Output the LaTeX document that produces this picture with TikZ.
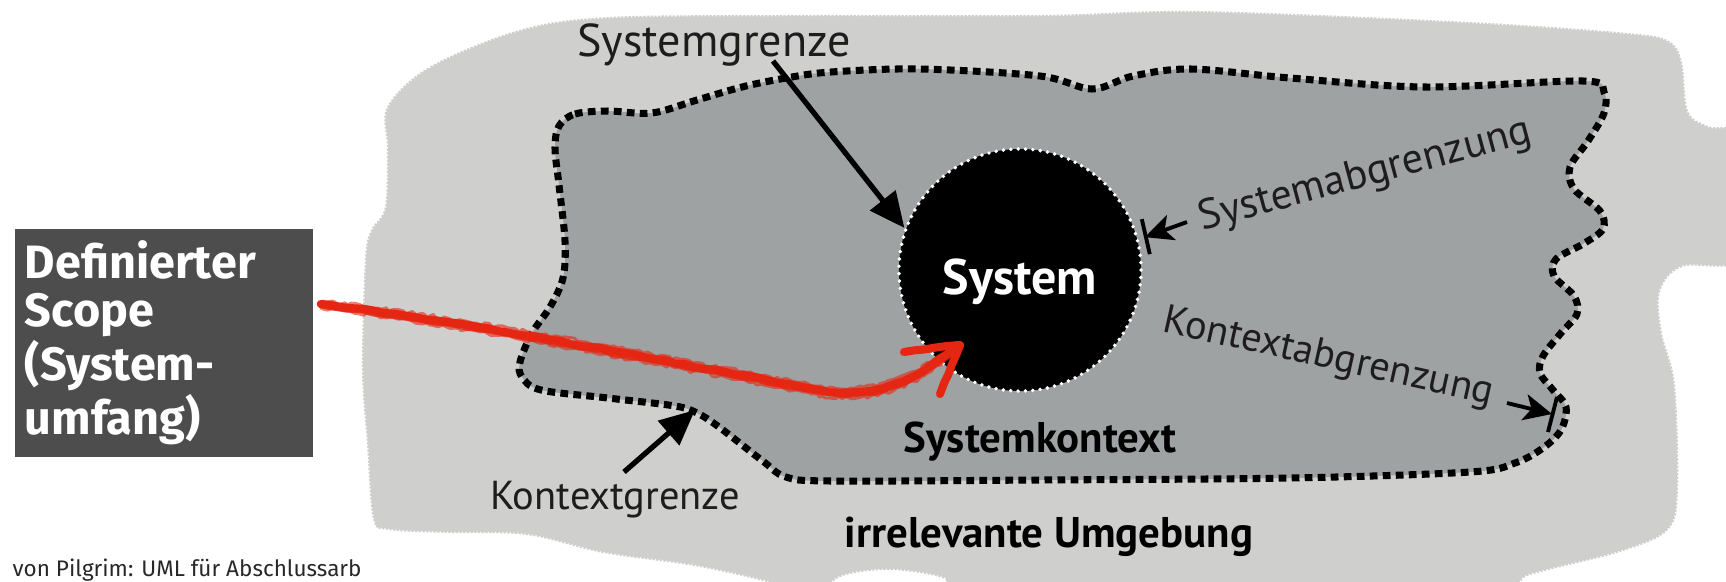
\documentclass[tikz,border=0pt]{standalone}
\usepackage{fontspec}
\setmainfont{PT Sans}
\newfontfamily\plexlike{Fira Sans}
\usetikzlibrary{arrows.meta,calc,decorations.pathmorphing}

\definecolor{envgray}{RGB}{207,207,206}
\definecolor{ctxgray}{RGB}{159,162,163}
\definecolor{boxgray}{RGB}{77,77,77}
\definecolor{chalkred}{RGB}{228,38,18}
\definecolor{inkblack}{RGB}{30,28,29}
\definecolor{footgray}{RGB}{40,40,40}

\begin{document}
\begin{tikzpicture}[x=0.01cm,y=-0.01cm,
  lbl/.style={font=\fontsize{11.5}{12}\selectfont, text=inkblack, inner sep=0pt},
  boldlbl/.style={font=\fontsize{12.2}{13}\selectfont\bfseries, text=black, inner sep=0pt},
  bigarrow/.style={line width=1.5pt, -{Triangle[length=10pt,width=9pt]}},
  smallarrow/.style={line width=1.1pt, -{Stealth[length=8pt,width=7.5pt,inset=2pt]}},
  tickmark/.style={line width=1.1pt},
  ctxborder/.style={line width=2pt, dash pattern=on 2.2pt off 1.5pt},
  edgeteeth/.style={draw=white, line width=0.7pt, dash pattern=on 0.35pt off 0.7pt},
  chalk/.style={chalkred, line width=2.3pt, line cap=round, line join=round,
    decorate, decoration={random steps, segment length=3pt, amplitude=0.25pt}},
  chalkgrain/.style={chalk, line width=0.8pt, opacity=0.6,
    decoration={random steps, segment length=1.2pt, amplitude=0.5pt}},
]
\useasboundingbox (0,0) rectangle (1726,581);
\clip (0,0) rectangle (1726,581);
\pgfmathsetseed{7}

% irrelevant surroundings
\filldraw[fill=envgray, edgeteeth]
  plot[smooth cycle, tension=0.55] coordinates {
  (387,107) (429,67) (519,30) (608,17) (786,15) (1040,15) (1200,11) (1470,22)
  (1628,33) (1669,41) (1682,62) (1688,111) (1708,126) (1745,140) (1745,256)
  (1682,267) (1660,292) (1662,333) (1675,385) (1678,490) (1668,530) (1620,552)
  (1530,575) (1460,600) (960,600) (945,579) (890,570) (840,577) (815,600)
  (790,588) (700,567) (603,553) (527,535) (450,533) (389,530) (373,519)
  (367,444) (362,370) (365,259) (371,230) (385,207) (387,148)};

% system context
\filldraw[fill=ctxgray, draw=black, ctxborder]
  plot[smooth cycle, tension=0.55] coordinates {
  (559,126) (575,114) (608,111) (652,113) (697,100) (742,87) (786,78) (831,72)
  (920,69) (1040,76) (1092,89) (1133,76) (1191,69) (1290,78) (1425,87)
  (1583,81) (1604,92) (1604,113) (1588,141) (1570,167) (1574,189) (1600,211)
  (1603,229) (1583,244) (1556,259) (1554,276) (1574,296) (1577,314) (1561,333)
  (1543,356) (1540,373) (1553,390) (1566,407) (1561,430) (1543,448) (1515,463)
  (1470,472) (1290,478) (1040,480) (831,481) (786,477) (764,462) (719,427)
  (697,413) (675,406) (608,398) (541,390) (522,377) (520,362) (532,333)
  (550,307) (563,278) (565,241) (559,185) (555,148)};

% the system itself
\node[circle, fill=black, minimum size=2.42cm, inner sep=0pt, draw=white,
  line width=1.1pt, dash pattern=on 0pt off 2.1pt, line cap=round] (sys) at (1020,270) {};
\node[anchor=base, text=white, font=\fontsize{14.2}{15}\selectfont\bfseries] (systxt) at (1020,294) {System};

% labels
\node[lbl, anchor=base, font=\fontsize{13.1}{14}\selectfont] (sgl) at (714,56) {Systemgrenze};
\node[lbl, anchor=base] (kgl) at (615,509) {Kontextgrenze};
\node[lbl, anchor=base, rotate=15, font=\fontsize{12}{13}\selectfont] (sal) at (1368,186) {Systemabgrenzung};
\node[lbl, anchor=base, rotate=-12.5] (kal) at (1326,368) {Kontextabgrenzung};
\node[boldlbl, anchor=base] (skl) at (1040,452) {Systemkontext};
\node[boldlbl, anchor=base] (iul) at (1049,547) {irrelevante Umgebung};

% arrows to the boundaries
\coordinate (sgtail) at (773,61);
\draw[bigarrow] (sgtail) -- (sys.160);
\coordinate (kgtail) at (624,472);
\coordinate (kgtip) at (695,410);
\draw[bigarrow] (kgtail) -- (kgtip);

\coordinate (satail) at (1187,222);
\draw[smallarrow] (satail) -- ($(sys.15)+(6,-1)$);
\draw[tickmark] ($(sys.15)+(3,-19)$) -- ($(sys.15)+(11,16)$);

\coordinate (katail) at (1507,403);
\coordinate (katip) at (1552,414);
\draw[smallarrow] (katail) -- (katip);
\draw[tickmark] ($(katip)+(5,-17)$) -- ($(katip)+(-4,18)$);

% scope box
\node[fill=boxgray, minimum width=2.98cm, minimum height=2.12cm, inner xsep=0.1cm,
  text width=2.78cm, align=left, text=white,
  font=\plexlike\fontsize{13.3}{13.6}\selectfont\bfseries] (box) at (164,343)
  {Definierter\\Scope\\(System-\\umfang)};

% hand drawn scope arrow
\coordinate (redstart) at ($(box.east)+(7,-39)$);
\coordinate (redtip) at ($(sys.center)+(-60,75)$);
\draw[chalk] (redstart) .. controls (500,327) and (700,368) .. (820,390)
  .. controls (880,400) and (920,375) .. (redtip);
\draw[chalk, line width=1.3pt, opacity=0.8] ($(redstart)+(0,2)$) .. controls (500,330) and (700,371) .. (822,393)
  .. controls (882,402) and (922,378) .. ($(redtip)+(1,1)$);
\draw[chalkgrain] ($(redstart)+(2,-3)$) .. controls (500,322) and (700,364) .. (818,386)
  .. controls (878,396) and (918,371) .. ($(redtip)+(-2,-1)$);
\draw[chalkgrain] ($(redstart)+(0,4)$) .. controls (500,332) and (700,373) .. (822,396)
  .. controls (882,405) and (922,381) .. ($(redtip)+(2,3)$);
\draw[chalk] ($(redtip)+(-56,7)$) -- (redtip) -- ($(redtip)+(-20,49)$);

% source line
\node[anchor=base west, inner sep=0pt, text=footgray, font=\plexlike\fontsize{6.4}{7}\selectfont] (foot) at (12,576)
  {von Pilgrim: UML für Abschlussarb};
\end{tikzpicture}
\end{document}
